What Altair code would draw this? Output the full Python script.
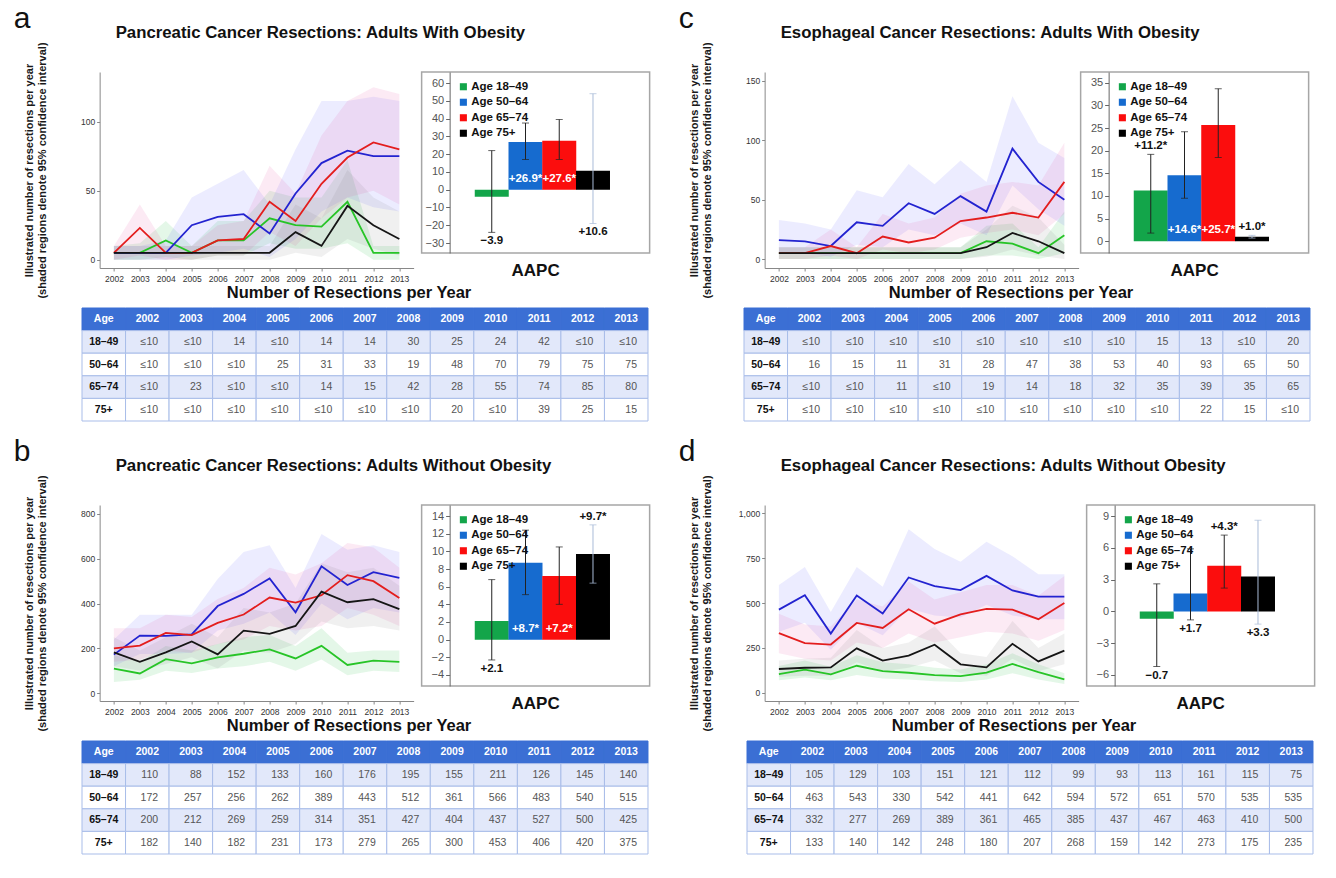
import altair as alt
import pandas as pd

SANS = "Liberation Sans, Arial, Helvetica, sans-serif"

YEARS = [2002, 2003, 2004, 2005, 2006, 2007, 2008, 2009, 2010, 2011, 2012, 2013]
AGES = ["18–49", "50–64", "65–74", "75+"]
GROUPS = ["Age 18–49", "Age 50–64", "Age 65–74", "Age 75+"]

LINE_COLORS = ["#27c427", "#2323d0", "#e31d1d", "#151515"]
BAND_COLORS = ["#2fbf4f", "#6464ff", "#e0409a", "#707070"]
BAND_OPACITY = [0.13, 0.10, 0.26, 0.18]
BAR_COLORS = ["#13a54a", "#166bcf", "#fb0d0d", "#000000"]

Y_TITLE = ["Illustrated number of resections per year",
           "(shaded regions denote 95% confidence interval)"]
TABLE_TITLE = "Number of Resections per Year"

# ---------------- Panel a: pancreatic, with obesity ----------------
A_TITLE = "Pancreatic Cancer Resections: Adults With Obesity"
A_G = [5, 5, 14, 5, 14, 14, 30, 25, 24, 42, 5, 5]
A_G_LO = [0, 0, 2, 0, 3, 3, 12, 8, 8, 12, 0, 0]
A_G_HI = [10, 12, 28, 10, 28, 28, 50, 45, 45, 72, 10, 10]
A_B = [5, 5, 5, 25, 31, 33, 19, 48, 70, 79, 75, 75]
A_B_LO = [0, 0, 0, 3, 5, 8, 2, 15, 35, 45, 38, 35]
A_B_HI = [10, 10, 14, 45, 55, 65, 40, 80, 115, 115, 118, 115]
A_R = [5, 23, 5, 5, 14, 15, 42, 28, 55, 74, 85, 80]
A_R_LO = [0, 3, 0, 0, 3, 3, 20, 10, 30, 45, 50, 40]
A_R_HI = [10, 40, 10, 10, 25, 28, 68, 48, 90, 115, 125, 120]
A_K = [5, 5, 5, 5, 5, 5, 5, 20, 10, 39, 25, 15]
A_K_LO = [0, 0, 0, 0, 0, 0, 0, 5, 2, 15, 8, 3]
A_K_HI = [10, 10, 10, 10, 10, 10, 10, 40, 30, 65, 45, 35]
A_AAPC = [-3.9, 26.9, 27.6, 10.6]
A_CI_LO = [-24, 17, 17, -19]
A_CI_HI = [22, 37.5, 39.5, 54]
A_SIG = [False, True, True, False]
A_PLACE = ["below", "inside", "inside", "below"]

# ---------------- Panel b: pancreatic, without obesity ----------------
B_TITLE = "Pancreatic Cancer Resections: Adults Without Obesity"
B_G = [110, 88, 152, 133, 160, 176, 195, 155, 211, 126, 145, 140]
B_G_LO = [50, 60, 100, 90, 110, 120, 140, 100, 150, 80, 100, 95]
B_G_HI = [170, 140, 210, 190, 220, 250, 260, 210, 290, 180, 190, 190]
B_B = [172, 257, 256, 262, 389, 443, 512, 361, 566, 483, 540, 515]
B_B_LO = [120, 175, 175, 180, 280, 310, 360, 260, 400, 330, 380, 360]
B_B_HI = [240, 350, 350, 350, 510, 630, 660, 470, 710, 640, 660, 630]
B_R = [200, 212, 269, 259, 314, 351, 427, 404, 437, 527, 500, 425]
B_R_LO = [140, 150, 190, 180, 220, 240, 300, 280, 300, 380, 350, 300]
B_R_HI = [290, 290, 350, 340, 420, 470, 560, 530, 580, 670, 650, 560]
B_K = [182, 140, 182, 231, 173, 279, 265, 300, 453, 406, 420, 375]
B_K_LO = [120, 100, 130, 160, 110, 190, 180, 220, 320, 290, 300, 280]
B_K_HI = [250, 190, 250, 310, 250, 380, 360, 400, 580, 540, 560, 480]
B_AAPC = [2.1, 8.7, 7.2, 9.7]
B_CI_LO = [-2.3, 5.1, 4.0, 6.4]
B_CI_HI = [6.8, 12.4, 10.5, 13.0]
B_SIG = [False, True, True, True]
B_PLACE = ["below", "inside", "inside", "above"]

# ---------------- Panel c: esophageal, with obesity ----------------
C_TITLE = "Esophageal Cancer Resections: Adults With Obesity"
C_G = [5, 5, 5, 5, 5, 5, 5, 5, 15, 13, 5, 20]
C_G_LO = [0, 0, 0, 0, 0, 0, 0, 0, 3, 3, 0, 5]
C_G_HI = [10, 10, 10, 10, 10, 10, 10, 10, 28, 30, 10, 40]
C_B = [16, 15, 11, 31, 28, 47, 38, 53, 40, 93, 65, 50]
C_B_LO = [5, 5, 2, 12, 10, 25, 20, 30, 20, 62, 42, 28]
C_B_HI = [33, 30, 25, 58, 52, 80, 63, 83, 65, 137, 98, 85]
C_R = [5, 5, 11, 5, 19, 14, 18, 32, 35, 39, 35, 65]
C_R_LO = [0, 0, 3, 0, 8, 5, 8, 18, 22, 25, 20, 38]
C_R_HI = [10, 10, 25, 10, 38, 30, 35, 55, 62, 65, 62, 98]
C_K = [5, 5, 5, 5, 5, 5, 5, 5, 10, 22, 15, 5]
C_K_LO = [0, 0, 0, 0, 0, 0, 0, 0, 2, 8, 3, 0]
C_K_HI = [10, 10, 10, 10, 10, 10, 10, 10, 25, 45, 35, 12]
C_AAPC = [11.2, 14.6, 25.7, 1.0]
C_CI_LO = [1.8, 9.5, 18.5, 0.7]
C_CI_HI = [19.2, 24.2, 33.7, 1.3]
C_SIG = [True, True, True, True]
C_PLACE = ["above", "inside", "inside", "above"]

# ---------------- Panel d: esophageal, without obesity ----------------
D_TITLE = "Esophageal Cancer Resections: Adults Without Obesity"
D_G = [105, 129, 103, 151, 121, 112, 99, 93, 113, 161, 115, 75]
D_G_LO = [70, 85, 70, 100, 80, 75, 65, 60, 75, 110, 75, 50]
D_G_HI = [150, 180, 145, 210, 170, 160, 140, 130, 160, 220, 160, 110]
D_B = [463, 543, 330, 542, 441, 642, 594, 572, 651, 570, 535, 535]
D_B_LO = [340, 390, 240, 390, 320, 470, 430, 420, 490, 430, 410, 410]
D_B_HI = [600, 700, 450, 700, 590, 910, 800, 730, 840, 760, 660, 660]
D_R = [332, 277, 269, 389, 361, 465, 385, 437, 467, 463, 410, 500]
D_R_LO = [220, 190, 180, 280, 250, 330, 280, 310, 340, 330, 290, 350]
D_R_HI = [440, 380, 370, 520, 480, 620, 520, 560, 600, 600, 540, 650]
D_K = [133, 140, 142, 248, 180, 207, 268, 159, 142, 273, 175, 235]
D_K_LO = [90, 95, 95, 170, 120, 140, 180, 110, 95, 190, 120, 160]
D_K_HI = [180, 190, 195, 350, 250, 280, 370, 220, 200, 400, 250, 330]
D_AAPC = [-0.7, 1.7, 4.3, 3.3]
D_CI_LO = [-5.2, -0.8, 2.2, -1.2]
D_CI_HI = [2.6, 5.9, 7.2, 8.6]
D_SIG = [False, False, True, False]
D_PLACE = ["below", "below", "above", "below"]

COLS = ["Age"] + [str(y) for y in YEARS]
ROWS = ["Age"] + AGES
INDEP = dict(color="independent", fill="independent", stroke="independent",
             fillOpacity="independent")


def series_frame(vals, los, his):
    recs = []
    for age, v, lo, hi in zip(AGES, vals, los, his):
        for y, a, b, c in zip(YEARS, v, lo, hi):
            recs.append(dict(year=y, age=age, value=a, lo=b, hi=c))
    return pd.DataFrame(recs)


def aapc_frame(aapc, lo, hi, sig, place):
    recs = []
    for i, (g, v, l, h, s, p) in enumerate(zip(GROUPS, aapc, lo, hi, sig, place)):
        sign = "+" if v >= 0 else "−"
        recs.append(dict(group=g, slot=i, aapc=v, lo=l, hi=h, place=p,
                         label=f"{sign}{abs(v):.1f}" + ("*" if s else "")))
    return pd.DataFrame(recs)


def table_frame(vals):
    recs = [dict(row="Age", col=c, text=c, role="head", kind="head") for c in COLS]
    for i, (age, v) in enumerate(zip(AGES, vals)):
        kind = "shade" if i % 2 == 0 else "plain"
        recs.append(dict(row=age, col="Age", text=age, role="age", kind=kind))
        for y, x in zip(YEARS, v):
            recs.append(dict(row=age, col=str(y), text="≤10" if x <= 10 else str(x),
                             role="val", kind=kind))
    return pd.DataFrame(recs)


def line_chart(df, ydom, yvals, yfmt):
    xs = alt.Scale(type="point", padding=0.55)
    xax = alt.Axis(labelAngle=0, labelFont=SANS, labelFontSize=8.5, labelColor="#333",
                   tickSize=3, tickColor="#888", domainColor="#888", labelPadding=3,
                   title=None, grid=False)
    ys = alt.Scale(domain=ydom, nice=False, zero=False)
    yax = alt.Axis(values=yvals, format=yfmt, title=Y_TITLE, titleFont=SANS,
                   titleFontSize=11, titleFontWeight="bold", titleColor="#1a1a1a",
                   titleX=-65, titleLineHeight=12.5, labelFont=SANS, labelFontSize=8.5,
                   labelColor="#333", tickSize=3, tickColor="#888", domainColor="#888",
                   labelPadding=2, grid=False)
    x = alt.X("year:O", scale=xs, axis=xax, title=None)
    bands = alt.Chart(df).mark_area(strokeWidth=0).encode(
        x=x,
        y=alt.Y("lo:Q", scale=ys, axis=yax, stack=None),
        y2="hi:Q",
        fill=alt.Fill("age:N", scale=alt.Scale(domain=AGES, range=BAND_COLORS), legend=None),
        fillOpacity=alt.FillOpacity("age:N", scale=alt.Scale(domain=AGES, range=BAND_OPACITY),
                                    legend=None),
    )
    lines = alt.Chart(df).mark_line(strokeWidth=1.8).encode(
        x=x,
        y=alt.Y("value:Q", scale=ys, axis=yax),
        stroke=alt.Stroke("age:N", scale=alt.Scale(domain=AGES, range=LINE_COLORS), legend=None),
    )
    return alt.layer(bands, lines).properties(width=314, height=196)


def bar_chart(df, ydom, yvals):
    x = alt.X("slot:Q", title=None, axis=None,
              scale=alt.Scale(domain=[-1.93, 4.53], nice=False, zero=False))
    ys = alt.Scale(domain=ydom, nice=False, zero=False)
    yax = alt.Axis(values=yvals, offset=-28, title=None, grid=False, labelFont=SANS,
                   labelFontSize=11, labelColor="#555", tickSize=4, tickColor="#666",
                   domainColor="#666", labelPadding=2)
    errc = alt.condition(alt.datum.group == GROUPS[3], alt.value("#a9bcd8"), alt.value("#222222"))
    base = alt.Chart(df)
    bars = base.mark_bar(width=34).encode(
        x=x,
        y=alt.Y("aapc:Q", scale=ys, axis=yax),
        color=alt.Color("group:N", scale=alt.Scale(domain=GROUPS, range=BAR_COLORS),
                        legend=alt.Legend(title=None, orient="none", legendX=36, legendY=9,
                                          direction="vertical", symbolType="square",
                                          symbolSize=50, symbolStrokeWidth=0,
                                          labelFont=SANS, labelFontSize=11.5,
                                          labelFontWeight="bold", labelColor="#111",
                                          rowPadding=2.5, labelOffset=2, padding=0)),
    )
    rule = base.mark_rule(strokeWidth=1).encode(
        x=x, y=alt.Y("lo:Q", scale=ys, axis=yax), y2="hi:Q", color=errc)
    cap_lo = base.mark_tick(size=7, thickness=1, orient="horizontal").encode(
        x=x, y=alt.Y("lo:Q", scale=ys, axis=yax), color=errc)
    cap_hi = base.mark_tick(size=7, thickness=1, orient="horizontal").encode(
        x=x, y=alt.Y("hi:Q", scale=ys, axis=yax), color=errc)
    tstyle = dict(font=SANS, fontSize=11.5, fontWeight="bold", baseline="middle")
    below = base.transform_filter(alt.datum.place == "below").mark_text(
        dy=9, color="#111", **tstyle).encode(
        x=x, y=alt.Y("lo:Q", scale=ys, axis=yax), text="label:N")
    above = base.transform_filter(alt.datum.place == "above").mark_text(
        dy=-8, color="#111", **tstyle).encode(
        x=x, y=alt.Y("hi:Q", scale=ys, axis=yax), text="label:N")
    inside = base.transform_filter(alt.datum.place == "inside").transform_calculate(
        zero="0").mark_text(dy=-11, color="white", **tstyle).encode(
        x=x, y=alt.Y("zero:Q", scale=ys, axis=yax), text="label:N")
    return alt.layer(bars, rule, cap_lo, cap_hi, below, above, inside).properties(
        width=228, height=181,
        view=alt.ViewBackground(stroke="#a6a6a6", strokeWidth=1.5),
        title=alt.Title("AAPC", orient="bottom", fontSize=17, fontWeight="bold", font=SANS,
                        color="#111", offset=10),
    )


def table_chart(df):
    xs = alt.Scale(domain=COLS, paddingInner=0, paddingOuter=0.2297, align=0)
    ys = alt.Scale(domain=ROWS, paddingInner=0, paddingOuter=0)
    base = alt.Chart(df)
    kinds = ["head", "shade", "plain"]
    rect = base.mark_rect(strokeWidth=1).encode(
        x=alt.X("col:N", scale=xs, axis=None),
        y=alt.Y("row:N", scale=ys, axis=None),
        fill=alt.Fill("kind:N", scale=alt.Scale(domain=kinds, range=["#3b6fd4", "#e2e8fa", "#ffffff"]),
                      legend=None),
        stroke=alt.Stroke("kind:N", scale=alt.Scale(domain=kinds, range=["#3b6fd4", "#a9bde9", "#a9bde9"]),
                          legend=None),
    )
    head = base.transform_filter(alt.datum.role == "head").mark_text(
        font=SANS, fontSize=10.5, fontWeight="bold", color="white").encode(
        x=alt.X("col:N", scale=xs, axis=None), y=alt.Y("row:N", scale=ys, axis=None), text="text:N")
    age = base.transform_filter(alt.datum.role == "age").mark_text(
        font=SANS, fontSize=10.5, fontWeight="bold", color="#111").encode(
        x=alt.X("col:N", scale=xs, axis=None), y=alt.Y("row:N", scale=ys, axis=None), text="text:N")
    val = base.transform_filter(alt.datum.role == "val").mark_text(
        font=SANS, fontSize=10.5, color="#555", align="right", dx=-11).encode(
        x=alt.X("col:N", scale=xs, axis=None, bandPosition=1),
        y=alt.Y("row:N", scale=ys, axis=None), text="text:N")
    return alt.layer(rect, head, age, val).properties(
        width=586, height=113,
        title=alt.Title(TABLE_TITLE, fontSize=16.5, fontWeight="bold", font=SANS, color="#111",
                        offset=6, anchor="middle", dx=-26),
    )


def panel(letter, title, g, b, r, k, ydom, yvals, yfmt, aapc_df, bdom, bvals, gap):
    vals, los, his = zip(*[g, b, r, k])
    sdf = series_frame(vals, los, his)
    row1 = alt.hconcat(
        line_chart(sdf, ydom, yvals, yfmt), bar_chart(aapc_df, bdom, bvals),
        spacing=gap, bounds="flush",
        title=alt.Title(title, anchor="start", frame="group", dx=16, fontSize=16.8,
                        fontWeight="bold", font=SANS, color="#111", offset=0),
    ).resolve_scale(**INDEP)
    quad = alt.vconcat(
        row1, table_chart(table_frame(vals)), spacing=-14, center=True,
        title=alt.Title(letter, anchor="start", frame="bounds", dx=-10, fontSize=30,
                        fontWeight="normal", font=SANS, color="#111", offset=-9),
    ).resolve_scale(**INDEP)
    return quad


qa = panel("a", A_TITLE, (A_G, A_G_LO, A_G_HI), (A_B, A_B_LO, A_B_HI), (A_R, A_R_LO, A_R_HI),
           (A_K, A_K_LO, A_K_HI), [-6, 136], [0, 50, 100], "d",
           aapc_frame(A_AAPC, A_CI_LO, A_CI_HI, A_SIG, A_PLACE), [-35.6, 66.2],
           list(range(-30, 61, 10)), 8)
qb = panel("b", B_TITLE, (B_G, B_G_LO, B_G_HI), (B_B, B_B_LO, B_B_HI), (B_R, B_R_LO, B_R_HI),
           (B_K, B_K_LO, B_K_HI), [-35, 840], [0, 200, 400, 600, 800], "d",
           aapc_frame(B_AAPC, B_CI_LO, B_CI_HI, B_SIG, B_PLACE), [-5.25, 15.25],
           list(range(-4, 15, 2)), 8)
qc = panel("c", C_TITLE, (C_G, C_G_LO, C_G_HI), (C_B, C_B_LO, C_B_HI), (C_R, C_R_LO, C_R_HI),
           (C_K, C_K_LO, C_K_HI), [-7.5, 157.5], [0, 50, 100, 150], "d",
           aapc_frame(C_AAPC, C_CI_LO, C_CI_HI, C_SIG, C_PLACE), [-2.6, 37.4],
           list(range(0, 36, 5)), 2)
qd = panel("d", D_TITLE, (D_G, D_G_LO, D_G_HI), (D_B, D_B_LO, D_B_HI), (D_R, D_R_LO, D_R_HI),
           (D_K, D_K_LO, D_K_HI), [-45, 1045], [0, 250, 500, 750, 1000], ",.0f",
           aapc_frame(D_AAPC, D_CI_LO, D_CI_HI, D_SIG, D_PLACE), [-7.04, 10.04],
           list(range(-6, 10, 3)), 8)

top = alt.hconcat(qa, qc, spacing=10).resolve_scale(**INDEP)
bottom = alt.hconcat(qb, qd, spacing=10).resolve_scale(**INDEP)
chart = alt.vconcat(top, bottom, spacing=15).resolve_scale(**INDEP).properties(
    padding={"left": 13, "top": 4, "right": 0, "bottom": 0}, background="white",
).configure_view(stroke=None)

chart.save("out.html", embed_options={"renderer": "svg", "actions": False})
